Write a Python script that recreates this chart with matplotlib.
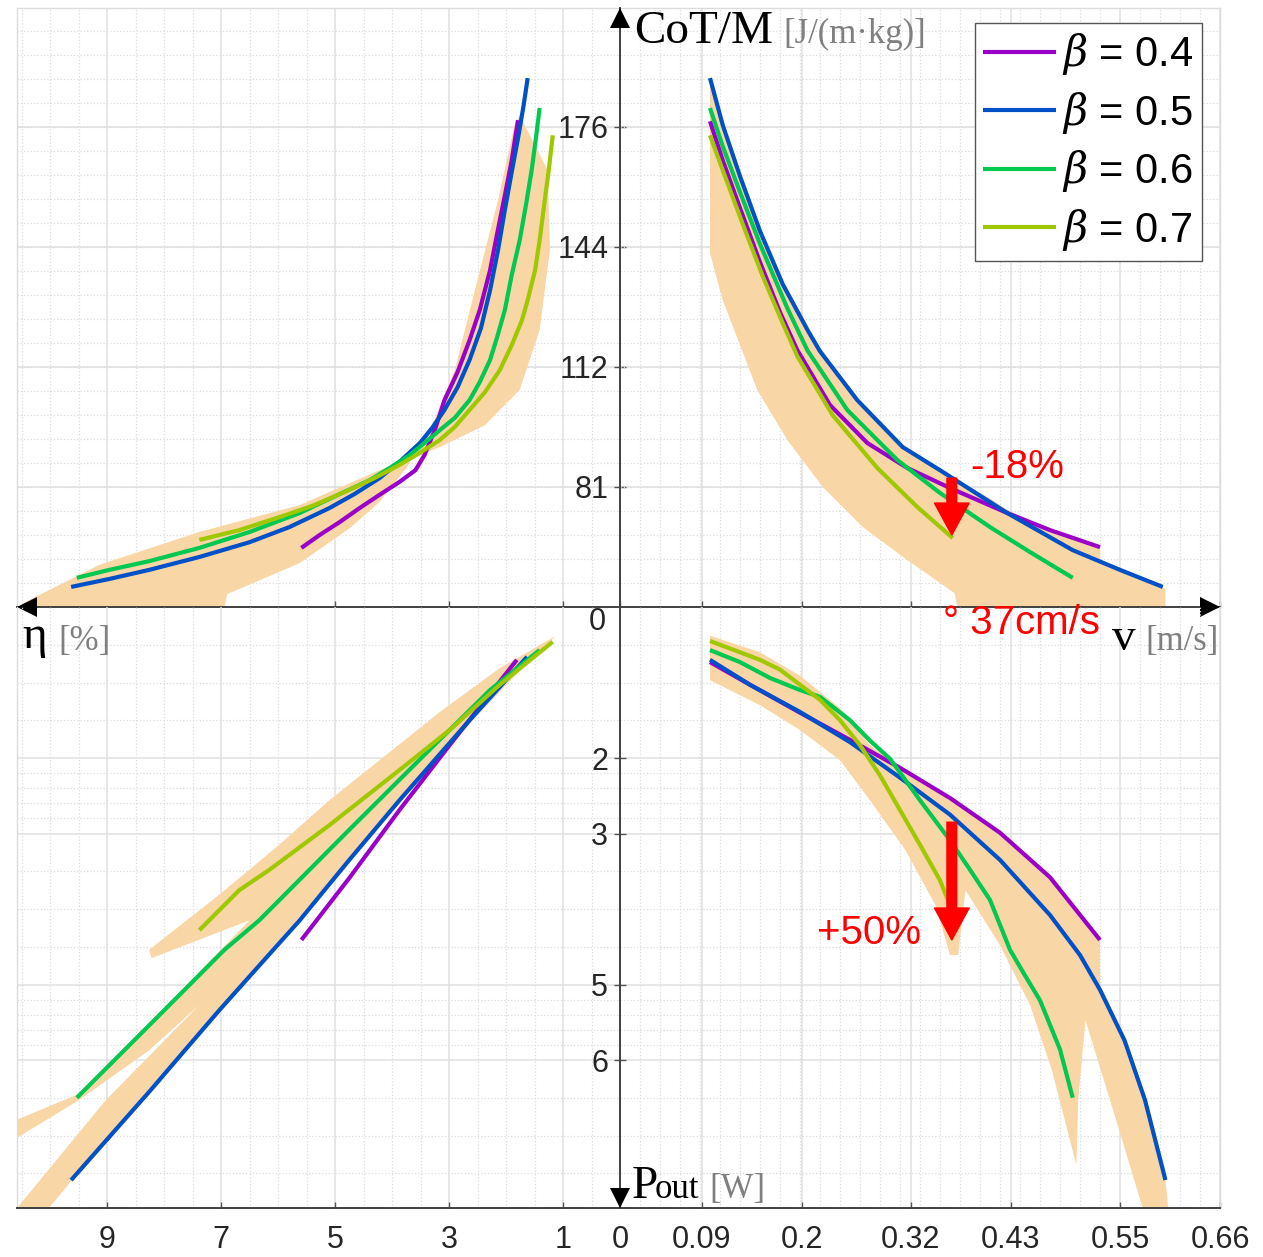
import numpy as np
import matplotlib.pyplot as plt
from matplotlib.transforms import offset_copy

plt.rcParams['font.family'] = ['Liberation Sans', 'DejaVu Sans']
plt.rcParams['mathtext.fontset'] = 'dejavuserif'

W, H = 1263, 1257

betas = ['0.4', '0.5', '0.6', '0.7']
colors = ['#9B00C8', '#0050C8', '#00C850', '#A0C800']
band_color = '#F9D6A5'

# ---- top right: CoT/M against v ----
v_tr_04 = [.099, .113, .132, .154, .176, .195, .231, .272, .316, .363, .426, .473, .528]
cot_tr_04 = [177.5, 167.2, 154.6, 140.3, 127.1, 117.1, 102.6, 92.6, 86.0, 80.7, 74.1, 69.6, 65.1]
v_tr_05 = [.099, .113, .132, .154, .179, .207, .220, .261, .311, .352, .426, .498, .550, .597]
cot_tr_05 = [188.9, 176.5, 163.0, 148.5, 134.5, 122.1, 116.8, 103.9, 91.5, 85.4, 74.1, 64.3, 59.1, 54.6]
v_tr_06 = [.099, .113, .132, .154, .184, .206, .250, .305, .352, .407, .451, .498]
cot_tr_06 = [181.0, 170.9, 158.8, 145.1, 128.2, 117.1, 101.3, 88.1, 79.4, 70.4, 63.8, 57.0]
v_tr_07 = [.099, .113, .135, .157, .179, .195, .234, .283, .327, .366]
cot_tr_07 = [173.8, 164.6, 150.4, 136.6, 124.2, 115.5, 99.9, 86.0, 75.7, 67.5]

band_tr_v = [.099, .113, .132, .154, .179, .207, .261, .311, .352, .407, .426, .473, .528, .528,
             .597, .600, .600, .371, .368, .366, .316, .267, .223, .184, .151, .113, .099]
band_tr_cot = [188.9, 176.5, 163.0, 148.5, 134.5, 122.1, 103.9, 91.5, 85.4, 78.0, 75.0, 69.6, 65.1, 61.2,
               54.6, 54.0, 49.3, 49.3, 53.0, 53.3, 61.7, 70.4, 81.0, 93.4, 106.6, 130.3, 142.7]

# ---- top left: CoT/M against eta ----
eta_tl_04 = [1.79, 1.90, 2.02, 2.16, 2.28, 2.46, 2.64, 2.85, 3.08, 3.25, 3.43, 3.59, 3.87, 4.22,
             4.57, 4.92, 5.27, 5.59]
cot_tl_04 = [177.8, 167.2, 158.0, 147.5, 138.2, 127.7, 119.7, 111.3, 103.9, 96.0, 89.4, 85.4, 82.3,
             78.9, 75.4, 71.7, 68.3, 64.9]
eta_tl_05 = [1.62, 1.69, 1.78, 1.90, 2.02, 2.14, 2.28, 2.44, 2.64, 2.85, 3.08, 3.30, 3.51, 3.87,
             4.22, 4.66, 5.10, 5.80, 6.50, 7.38, 8.26, 8.96, 9.63]
cot_tl_05 = [188.9, 181.8, 173.8, 164.1, 154.1, 143.5, 132.9, 122.9, 114.5, 107.3, 101.3, 96.5, 92.6,
             87.6, 83.3, 79.1, 75.4, 70.4, 66.4, 62.5, 59.1, 56.7, 54.6]
eta_tl_06 = [1.41, 1.48, 1.55, 1.65, 1.76, 1.90, 2.02, 2.16, 2.28, 2.46, 2.64, 2.90, 3.16, 3.43,
             3.69, 4.04, 4.39, 4.92, 5.62, 6.50, 7.38, 8.26, 8.96, 9.53]
cot_tl_06 = [181.0, 172.5, 164.6, 155.4, 146.1, 136.9, 127.7, 120.3, 114.5, 108.7, 103.9, 99.2, 96.0,
             92.6, 89.4, 86.0, 82.8, 79.1, 74.1, 69.1, 64.9, 61.4, 59.1, 57.0]
eta_tl_07 = [1.18, 1.25, 1.32, 1.41, 1.49, 1.62, 1.72, 1.90, 2.11, 2.37, 2.64, 2.90, 3.16, 3.51,
             3.87, 4.31, 4.75, 5.36, 5.98, 6.68, 7.38]
cot_tl_07 = [173.8, 164.6, 156.7, 146.1, 138.2, 130.3, 125.0, 118.4, 111.8, 106.0, 101.3, 96.8, 93.4,
             90.0, 86.8, 83.3, 80.2, 76.2, 73.0, 69.6, 67.0]

band_tl_eta = [1.76, 1.27, 1.23, 1.41, 1.76, 2.37, 3.16, 4.22, 5.62, 7.38, 9.14, 10.37, 10.58,
               6.94, 6.89, 5.62, 4.75, 4.22, 3.75, 3.30, 2.90, 2.50, 2.14, 1.85]
band_tl_cot = [179.1, 164.6, 143.5, 122.4, 106.6, 97.3, 91.5, 85.4, 76.2, 69.1, 60.4, 51.1, 49.3,
               49.3, 52.7, 60.9, 70.0, 77.0, 86.0, 97.0, 111.8, 135.6, 156.7, 176.5]

# ---- bottom left: Pout against eta ----
eta_bl_04 = [1.81, 2.99, 3.87, 4.75, 5.59]
p_bl_04 = [0.70, 1.83, 2.69, 3.59, 4.41]
eta_bl_05 = [1.63, 2.64, 3.87, 4.75, 5.62, 7.03, 8.26, 9.63]
p_bl_05 = [0.66, 1.50, 2.56, 3.35, 4.15, 5.34, 6.42, 7.59]
eta_bl_06 = [1.41, 2.28, 3.34, 4.75, 6.33, 6.94, 8.26, 9.53]
p_bl_06 = [0.57, 1.10, 1.89, 2.95, 4.15, 4.54, 5.54, 6.50]
eta_bl_07 = [1.18, 2.11, 2.99, 3.87, 5.10, 6.15, 6.68, 7.38]
p_bl_07 = [0.46, 1.03, 1.63, 2.16, 2.89, 3.48, 3.75, 4.28]

band_bl_eta = [1.12, 2.11, 3.16, 4.22, 5.10, 5.98, 7.03, 8.26, 8.22, 6.50, 7.38, 8.26, 9.53, 10.58,
               10.58, 9.49, 8.26, 7.38, 9.02, 10.58, 10.02, 8.44, 6.50, 4.75, 2.99, 1.58]
band_bl_p = [0.38, 0.81, 1.39, 2.03, 2.56, 3.15, 3.81, 4.54, 4.65, 4.15, 4.83, 5.54, 6.46, 6.79,
             7.03, 6.53, 5.87, 5.27, 6.53, 7.96, 7.96, 6.53, 4.87, 3.35, 1.83, 0.70]

# ---- bottom right: Pout against v ----
v_br_04 = [.099, .143, .198, .253, .308, .363, .418, .473, .528]
p_br_04 = [.73, 1.03, 1.40, 1.76, 2.13, 2.53, 2.99, 3.58, 4.41]
v_br_05 = [.099, .143, .198, .253, .308, .363, .418, .473, .506, .528, .555, .5775, .600]
p_br_05 = [.70, 1.03, 1.39, 1.79, 2.26, 2.75, 3.35, 4.08, 4.61, 5.07, 5.74, 6.53, 7.59]
v_br_06 = [.099, .132, .165, .198, .220, .253, .275, .297, .330, .363, .385, .407, .429, .445, .462,
           .484, .498]
p_br_06 = [.57, .73, .94, 1.10, 1.19, 1.50, 1.77, 2.01, 2.56, 3.09, 3.48, 3.88, 4.54, 4.87, 5.21,
           5.86, 6.50]
v_br_07 = [.099, .132, .154, .176, .198, .220, .242, .264, .286, .308, .330, .352, .366]
p_br_07 = [.45, .60, .70, .83, 1.03, 1.23, 1.50, 1.83, 2.23, 2.69, 3.15, 3.62, 4.04]

band_br_v = [.099, .154, .198, .242, .275, .308, .363, .418, .473, .528, .528, .555, .5775, .600, .603,
             .575, .539, .512, .504, .502, .475, .451, .418, .380, .372, .363, .347, .314, .275, .242,
             .198, .154, .099]
band_br_p = [.38, .60, .91, 1.34, 1.83, 2.13, 2.53, 2.99, 3.58, 4.38, 5.07, 5.74, 6.53, 7.59, 7.96,
             7.96, 6.53, 5.47, 6.53, 7.39, 6.13, 5.27, 4.48, 3.75, 4.61, 4.61, 3.95, 3.22, 2.56, 2.03,
             1.63, 1.30, .97]

# axis ranges and ticks
eta_max, v_max = 10.58, 0.66
cot_lo, cot_hi = 49.3, 207.4
p_max = 7.96
cot_ticks = [81, 112.67, 144.33, 176]
cot_labels = ['81', '112', '144', '176']
eta_ticks = [1, 3, 5, 7, 9]
v_ticks = [0, 0.09, 0.2, 0.32, 0.43, 0.55, 0.66]
v_labels = ['0', '0.09', '0.2', '0.32', '0.43', '0.55', '0.66']
p_ticks = [2, 3, 5, 6]

eta_minor = np.arange(0.5, 10.6, 0.5)
cot_minor = cot_lo + 6.333 * np.arange(1, 25)
v_minor = np.arange(0.022, 0.66, 0.022)
p_minor = [0.5, 1, 1.5, 2.2, 2.4, 2.6, 2.8, 3.5, 4, 4.5, 5.2, 5.4, 5.6, 5.8, 6.5, 7, 7.5]

dark, light = '#404040', '#dcdcdc'
tick_col = '#262626'

fig = plt.figure(figsize=(W / 100, H / 100), dpi=100)


def box(x0, y0, x1, y1):
    return [x0 / W, 1 - y1 / H, (x1 - x0) / W, (y1 - y0) / H]


ax_tl = fig.add_axes(box(17, 8, 620, 607))
ax_tr = fig.add_axes(box(620, 8, 1220, 607))
ax_bl = fig.add_axes(box(17, 607, 620, 1208))
ax_br = fig.add_axes(box(620, 607, 1220, 1208))

ax_tl.set_xlim(eta_max, 0); ax_tl.set_ylim(cot_lo, cot_hi)
ax_tr.set_xlim(0, v_max); ax_tr.set_ylim(cot_lo, cot_hi)
ax_bl.set_xlim(eta_max, 0); ax_bl.set_ylim(p_max, 0)
ax_br.set_xlim(0, v_max); ax_br.set_ylim(p_max, 0)

for ax, xt, xm, yt, ym in [(ax_tl, eta_ticks, eta_minor, cot_ticks, cot_minor),
                           (ax_tr, v_ticks, v_minor, cot_ticks, cot_minor),
                           (ax_bl, eta_ticks, eta_minor, p_ticks, p_minor),
                           (ax_br, v_ticks, v_minor, p_ticks, p_minor)]:
    ax.set_xticks(xt)
    ax.set_xticks(xm, minor=True)
    ax.set_yticks(yt)
    ax.set_yticks(ym, minor=True)
    ax.set_axisbelow(True)
    ax.grid(which='major', color='#e0e0e0', lw=1.1)
    ax.grid(which='minor', color='#dcdcdc', lw=0.9, ls=':')
    ax.tick_params(which='minor', length=0)
    ax.tick_params(axis='y', length=0, labelleft=False)
    ax.tick_params(axis='x', direction='in', length=4, width=1, color='#555555',
                   labelbottom=False, labelsize=22, labelcolor=tick_col)
    ax.set_facecolor('none')
    for s in ax.spines.values():
        s.set_color(light)
        s.set_linewidth(1)

# spines: centre cross and bottom edge dark, outer frame light
ax_tl.spines['right'].set_visible(False)
ax_tl.spines['bottom'].set_color(dark)
ax_tr.spines['left'].set_color(dark)
ax_tr.spines['bottom'].set_color(dark)
ax_bl.spines['top'].set_visible(False)
ax_bl.spines['right'].set_visible(False)
ax_bl.spines['bottom'].set_color(dark)
ax_br.spines['top'].set_visible(False)
ax_br.spines['left'].set_color(dark)
ax_br.spines['bottom'].set_color(dark)
for ax, keys in [(ax_tl, ['bottom']), (ax_tr, ['left', 'bottom']),
                 (ax_bl, ['bottom']), (ax_br, ['left', 'bottom'])]:
    for k in keys:
        ax.spines[k].set_linewidth(1.4)
        ax.spines[k].set_zorder(5)

# tick labels
ax_tr.set_yticklabels(cot_labels)
ax_tr.tick_params(axis='y', direction='inout', length=9, width=1, color='#555555',
                  labelleft=True, labelsize=22, labelcolor=tick_col, pad=4)
ax_br.set_yticklabels([str(t) for t in p_ticks])
ax_br.tick_params(axis='y', direction='inout', length=9, width=1, color='#555555',
                  labelleft=True, labelsize=22, labelcolor=tick_col, pad=4)
ax_bl.set_xticklabels([str(t) for t in eta_ticks])
ax_bl.tick_params(axis='x', labelbottom=True, pad=12)
ax_br.set_xticklabels(v_labels)
ax_br.tick_params(axis='x', labelbottom=True, pad=12)

# bands
ax_tr.fill(band_tr_v, band_tr_cot, color=band_color, lw=0, zorder=1)
ax_tl.fill(band_tl_eta, band_tl_cot, color=band_color, lw=0, zorder=1)
ax_bl.fill(band_bl_eta, band_bl_p, color=band_color, lw=0, zorder=1)
ax_br.fill(band_br_v, band_br_p, color=band_color, lw=0, zorder=1)

# curves
tr_data = [(v_tr_04, cot_tr_04), (v_tr_05, cot_tr_05), (v_tr_06, cot_tr_06), (v_tr_07, cot_tr_07)]
tl_data = [(eta_tl_04, cot_tl_04), (eta_tl_05, cot_tl_05), (eta_tl_06, cot_tl_06), (eta_tl_07, cot_tl_07)]
bl_data = [(eta_bl_04, p_bl_04), (eta_bl_05, p_bl_05), (eta_bl_06, p_bl_06), (eta_bl_07, p_bl_07)]
br_data = [(v_br_04, p_br_04), (v_br_05, p_br_05), (v_br_06, p_br_06), (v_br_07, p_br_07)]

line_kw = dict(lw=3, zorder=3, solid_joinstyle='round', solid_capstyle='butt')
handles = []
for i in range(4):
    h, = ax_tr.plot(*tr_data[i], color=colors[i], label=r'$\beta$ = ' + betas[i], **line_kw)
    handles.append(h)
    ax_tl.plot(*tl_data[i], color=colors[i], **line_kw)
    ax_bl.plot(*bl_data[i], color=colors[i], **line_kw)
    ax_br.plot(*br_data[i], color=colors[i], **line_kw)

# red arrows
arrow_style = dict(arrowstyle='simple,head_width=1.25,head_length=1.15,tail_width=0.35',
                   mutation_scale=20, color='red', shrinkA=0, shrinkB=0)
ax_tr.annotate('', xy=(0.365, 68.3), xytext=(0.365, 83.3), arrowprops=arrow_style, zorder=6)
ax_br.annotate('', xy=(0.365, 4.41), xytext=(0.365, 2.85), arrowprops=arrow_style, zorder=6)


# arrow heads of the cross
def arrow_head(ax, x, y, marker, dx, dy):
    tr = offset_copy(ax.transAxes, fig=fig, x=dx, y=dy, units='dots')
    ax.plot([x], [y], marker=marker, ms=14.5, color='black', mew=0,
            transform=tr, clip_on=False, zorder=7)


arrow_head(ax_tr, 0, 1, '^', 0, -10)
arrow_head(ax_tr, 1, 0, '>', -10, 0)
arrow_head(ax_tl, 0, 0, '<', 10, 0)
arrow_head(ax_br, 0, 0, 'v', 0, 10)

# legend
ax_tr.legend(handles=handles, loc='upper right', bbox_to_anchor=(1202 / W, 1 - 23 / H),
             bbox_transform=fig.transFigure, borderaxespad=0, fontsize=30,
             handlelength=1.75, handletextpad=0.15, labelspacing=0.3, borderpad=0.2,
             fancybox=False, framealpha=1, edgecolor='#555555')


def put(x, y, s, **kw):
    fig.text(x / W, 1 - y / H, s, **kw)


serif = ['Liberation Serif', 'DejaVu Serif']
gray = '#808080'
put(634, 43, 'CoT/M', fontsize=34, family=serif, va='baseline')
put(783, 43, '[J/(m·kg)]', fontsize=25, family=serif, color=gray, va='baseline')
put(22, 648, 'η', fontsize=34, family=serif, va='baseline')
put(58, 650, '[%]', fontsize=25, family=serif, color=gray, va='baseline')
put(1112, 650, 'v', fontsize=34, family=serif, va='baseline')
put(1145, 650, '[m/s]', fontsize=25, family=serif, color=gray, va='baseline')
put(632, 1198, 'P', fontsize=34, family=serif, va='baseline')
put(655, 1198, 'out', fontsize=25, family=serif, va='baseline')
put(709, 1198, '[W]', fontsize=25, family=serif, color=gray, va='baseline')
put(606, 622, '0', fontsize=22, color=tick_col, ha='right', va='center')

put(970, 478, '-18%', fontsize=29, color='red', va='baseline')
put(943, 634, '° 37cm/s', fontsize=29, color='red', va='baseline')
put(817, 944, '+50%', fontsize=29, color='red', va='baseline')

fig.savefig('out.png', dpi=100)
